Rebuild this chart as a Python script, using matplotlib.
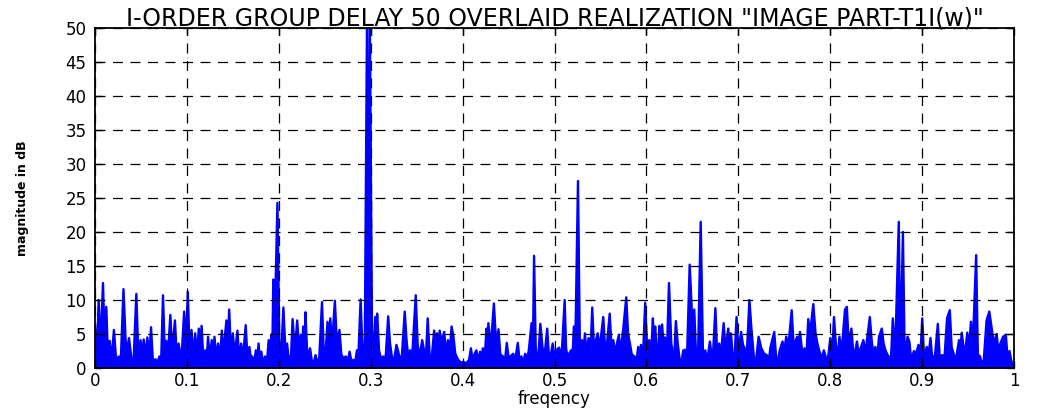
import matplotlib
matplotlib.use("Agg")
import matplotlib.pyplot as plt
import numpy as np

# spectral envelope of the overlaid realizations, sampled at the tips and dips
freq = [
    0.000, 0.002, 0.004, 0.006, 0.0087, 0.0105, 0.0123, 0.014, 0.016, 0.018,
    0.0206, 0.023, 0.026, 0.028, 0.031, 0.034, 0.037, 0.040, 0.042, 0.045,
    0.047, 0.0496, 0.051, 0.053, 0.055, 0.057, 0.059, 0.061, 0.063, 0.066,
    0.068, 0.070, 0.072, 0.074, 0.076, 0.0775, 0.079, 0.082, 0.084, 0.087,
    0.089, 0.091, 0.094, 0.097, 0.099, 0.101, 0.103, 0.105, 0.107, 0.109,
    0.111, 0.113, 0.1145, 0.116, 0.118, 0.120, 0.1215, 0.123, 0.125, 0.127,
    0.1285, 0.130, 0.132, 0.134, 0.136, 0.138, 0.1395, 0.143, 0.1445, 0.146,
    0.148, 0.150, 0.152, 0.155, 0.157, 0.159, 0.161, 0.164, 0.166, 0.168,
    0.170, 0.171, 0.173, 0.175, 0.1765, 0.178, 0.1795, 0.181, 0.183, 0.185,
    0.187, 0.189, 0.1905, 0.192, 0.193, 0.194, 0.1955, 0.1985, 0.2005, 0.202,
    0.205, 0.207, 0.209, 0.211, 0.212, 0.213, 0.215, 0.2175, 0.220, 0.222,
    0.224, 0.2255, 0.2265, 0.228, 0.229, 0.231, 0.232, 0.234, 0.236, 0.238,
    0.240, 0.242, 0.244, 0.247, 0.249, 0.251, 0.253, 0.2545, 0.256, 0.258,
    0.261, 0.263, 0.266, 0.268, 0.270, 0.273, 0.275, 0.277, 0.279, 0.281,
    0.283, 0.285, 0.2865, 0.289, 0.2905, 0.292, 0.2935, 0.296, 0.2975, 0.299,
    0.3015, 0.303, 0.305, 0.306, 0.307, 0.309, 0.311, 0.314, 0.316, 0.319,
    0.321, 0.323, 0.325, 0.328, 0.330, 0.332, 0.334, 0.337, 0.339, 0.341,
    0.343, 0.345, 0.346, 0.349, 0.351, 0.353, 0.356, 0.358, 0.360, 0.362,
    0.364, 0.366, 0.369, 0.3705, 0.372, 0.3735, 0.375, 0.377, 0.380, 0.382,
    0.384, 0.386, 0.388, 0.390, 0.392, 0.3952, 0.398, 0.401, 0.404, 0.407,
    0.409, 0.411, 0.413, 0.415, 0.417, 0.419, 0.4205, 0.422, 0.424, 0.426,
    0.427, 0.428, 0.4305, 0.434, 0.4365, 0.439, 0.441, 0.444, 0.446, 0.448,
    0.450, 0.452, 0.455, 0.457, 0.460, 0.462, 0.464, 0.466, 0.468, 0.4705,
    0.472, 0.475, 0.4765, 0.4777, 0.4795, 0.4818, 0.4845, 0.4875, 0.490, 0.492,
    0.494, 0.495, 0.498, 0.500, 0.502, 0.505, 0.507, 0.508, 0.511, 0.5125,
    0.514, 0.518, 0.5195, 0.521, 0.5225, 0.5255, 0.5275, 0.530, 0.5315, 0.533,
    0.535, 0.537, 0.539, 0.541, 0.543, 0.545, 0.547, 0.549, 0.550, 0.553,
    0.555, 0.557, 0.560, 0.562, 0.564, 0.566, 0.567, 0.570, 0.572, 0.573,
    0.575, 0.578, 0.580, 0.582, 0.584, 0.587, 0.589, 0.591, 0.593, 0.594,
    0.596, 0.5986, 0.601, 0.603, 0.605, 0.607, 0.608, 0.6095, 0.611, 0.612,
    0.613, 0.614, 0.6155, 0.617, 0.619, 0.620, 0.622, 0.6245, 0.627, 0.629,
    0.630, 0.632, 0.634, 0.636, 0.638, 0.640, 0.641, 0.642, 0.644, 0.647,
    0.649, 0.650, 0.652, 0.654, 0.656, 0.659, 0.6615, 0.664, 0.666, 0.669,
    0.671, 0.672, 0.675, 0.677, 0.679, 0.681, 0.684, 0.686, 0.689, 0.6905,
    0.692, 0.694, 0.696, 0.698, 0.700, 0.703, 0.705, 0.707, 0.709, 0.712,
    0.714, 0.717, 0.719, 0.722, 0.725, 0.728, 0.731, 0.733, 0.735, 0.739,
    0.741, 0.743, 0.745, 0.748, 0.750, 0.752, 0.7545, 0.758, 0.760, 0.761,
    0.764, 0.7655, 0.767, 0.770, 0.772, 0.774, 0.776, 0.778, 0.7815, 0.784,
    0.786, 0.788, 0.791, 0.793, 0.796, 0.797, 0.800, 0.802, 0.804, 0.806,
    0.808, 0.810, 0.812, 0.813, 0.816, 0.818, 0.820, 0.823, 0.825, 0.826,
    0.829, 0.831, 0.833, 0.836, 0.838, 0.839, 0.843, 0.845, 0.847, 0.849,
    0.851, 0.853, 0.856, 0.858, 0.860, 0.862, 0.866, 0.868, 0.8705, 0.8745,
    0.876, 0.877, 0.879, 0.881, 0.884, 0.886, 0.888, 0.891, 0.893, 0.896,
    0.898, 0.900, 0.902, 0.905, 0.907, 0.909, 0.911, 0.914, 0.917, 0.919,
    0.922, 0.924, 0.927, 0.930, 0.932, 0.935, 0.937, 0.940, 0.9415, 0.943,
    0.945, 0.947, 0.949, 0.951, 0.953, 0.955, 0.9587, 0.9605, 0.963, 0.965,
    0.967, 0.970, 0.973, 0.976, 0.978, 0.981, 0.983, 0.985, 0.988, 0.991,
    0.993, 0.995, 0.997, 1.000,
]

mag_db = [
    6.3, 1.5, 10.0, 3.0, 12.5, 4.0, 9.0, 2.0, 4.0, 1.0,
    5.6, 1.2, 1.7, 0.8, 11.6, 2.0, 4.4, 1.0, 1.0, 10.9,
    2.5, 4.1, 1.5, 4.2, 1.8, 4.5, 1.5, 6.0, 1.0, 1.3,
    0.6, 1.7, 1.0, 10.7, 2.0, 4.0, 1.2, 7.8, 2.5, 7.0,
    1.5, 3.6, 1.0, 8.3, 3.0, 11.2, 2.0, 5.6, 1.5, 5.1,
    2.0, 5.8, 2.5, 6.2, 1.0, 2.6, 1.0, 4.6, 1.2, 4.1,
    1.0, 4.6, 1.5, 3.6, 1.0, 5.5, 2.0, 7.0, 3.0, 8.6,
    2.0, 5.1, 1.9, 5.5, 1.0, 3.6, 1.5, 6.3, 1.2, 3.1,
    1.0, 1.7, 0.6, 2.6, 1.0, 3.6, 1.0, 2.4, 0.5, 1.7,
    0.8, 4.1, 2.0, 4.9, 2.5, 13.0, 6.0, 24.3, 4.0, 0.3,
    8.9, 3.0, 3.6, 1.0, 1.7, 0.8, 7.2, 2.5, 7.0, 3.0,
    4.9, 2.5, 6.1, 3.0, 8.2, 1.5, 2.0, 2.9, 1.0, 0.8,
    1.9, 0.7, 1.5, 9.7, 1.7, 2.5, 6.8, 3.0, 7.3, 3.5,
    9.9, 4.0, 5.6, 2.0, 1.5, 1.7, 0.9, 2.4, 1.0, 1.2,
    0.8, 2.6, 1.5, 10.1, 4.5, 1.2, 2.0, 52.0, 1.2, 52.0,
    3.0, 2.5, 7.5, 5.0, 8.0, 2.6, 1.5, 1.7, 1.0, 7.6,
    3.6, 1.7, 0.9, 3.4, 2.4, 1.0, 2.0, 8.3, 4.0, 1.5,
    2.6, 1.5, 3.8, 10.7, 3.6, 1.5, 4.1, 2.6, 1.5, 7.3,
    2.1, 1.0, 5.5, 3.0, 5.1, 3.0, 5.5, 4.0, 5.3, 2.0,
    4.1, 2.5, 6.1, 4.6, 2.1, 1.2, 0.8, 0.9, 0.7, 1.2,
    2.9, 1.0, 2.1, 2.6, 1.0, 2.4, 1.0, 2.9, 1.5, 5.8,
    3.5, 6.6, 3.0, 9.5, 3.5, 5.7, 2.0, 1.7, 1.0, 3.7,
    1.5, 1.7, 2.1, 1.0, 3.7, 1.0, 1.7, 0.8, 2.1, 1.5,
    2.6, 6.6, 3.0, 16.5, 3.0, 0.2, 6.5, 2.1, 3.0, 5.8,
    1.5, 1.2, 3.6, 1.5, 2.6, 3.0, 1.5, 2.6, 10.0, 3.0,
    1.7, 2.6, 1.5, 6.1, 2.6, 27.5, 3.5, 4.1, 2.0, 5.1,
    2.0, 4.4, 2.0, 8.9, 2.5, 4.1, 5.1, 2.0, 4.1, 7.5,
    3.0, 3.4, 8.0, 3.0, 4.1, 1.5, 3.1, 4.9, 2.0, 3.6,
    6.1, 10.4, 5.0, 3.6, 2.0, 1.7, 0.9, 3.1, 1.5, 3.4,
    1.0, 9.6, 2.0, 4.1, 2.0, 7.3, 4.0, 6.1, 3.0, 3.4,
    2.0, 6.2, 3.0, 6.4, 2.5, 4.5, 1.2, 12.5, 3.6, 1.7,
    1.0, 6.9, 3.6, 1.4, 0.7, 2.6, 1.0, 2.7, 1.0, 15.2,
    9.5, 4.5, 8.6, 1.7, 1.0, 21.5, 1.7, 2.6, 1.0, 3.9,
    1.7, 1.0, 8.8, 1.7, 3.6, 2.0, 6.6, 2.6, 5.8, 3.0,
    5.1, 1.2, 2.0, 7.5, 2.6, 5.3, 3.4, 2.9, 1.5, 10.0,
    6.1, 1.4, 0.8, 4.6, 2.9, 2.1, 1.9, 1.0, 3.1, 5.3,
    1.7, 1.0, 2.6, 3.9, 2.5, 4.6, 3.4, 8.5, 3.6, 3.5,
    4.6, 2.5, 5.3, 1.7, 2.9, 1.5, 7.2, 5.1, 9.4, 5.0,
    3.6, 2.5, 1.5, 2.6, 1.2, 0.8, 4.4, 1.7, 7.5, 3.6,
    1.5, 4.6, 2.0, 3.6, 8.6, 9.0, 3.6, 5.8, 2.2, 1.5,
    3.9, 2.0, 2.9, 4.1, 2.5, 3.1, 7.5, 4.1, 2.0, 3.1,
    1.5, 4.6, 5.8, 3.6, 2.6, 2.0, 1.2, 7.3, 1.7, 21.5,
    4.0, 6.0, 20.0, 1.0, 4.6, 3.9, 1.2, 2.5, 2.0, 3.4,
    1.5, 7.3, 1.7, 3.1, 2.0, 4.4, 1.2, 2.0, 6.5, 1.7,
    1.9, 1.0, 7.3, 8.5, 3.1, 1.7, 1.5, 4.1, 2.5, 5.2,
    3.1, 2.5, 5.2, 3.1, 6.8, 3.1, 16.6, 2.0, 1.7, 0.5,
    1.2, 7.0, 8.3, 5.5, 3.6, 5.0, 2.2, 3.6, 4.6, 4.9,
    1.2, 2.5, 1.0, 0.5,
]

x_ticks = [0, 0.1, 0.2, 0.3, 0.4, 0.5, 0.6, 0.7, 0.8, 0.9, 1]
x_ticklabels = ["0", "0.1", "0.2", "0.3", "0.4", "0.5", "0.6", "0.7", "0.8", "0.9", "1"]
y_ticks = [0, 5, 10, 15, 20, 25, 30, 35, 40, 45, 50]

f = np.array(freq)
m = np.array(mag_db)

fig = plt.figure(figsize=(10.38, 4.09), dpi=100)
ax = fig.add_axes([0.0915, 0.1002, 0.8855, 0.8313])

ax.fill_between(f, 0, m, color="#0000ff", linewidth=0)
ax.plot(f, m, color="#0000ff", linewidth=1.7)

ax.set_xlim(0, 1)
ax.set_ylim(0, 50)
ax.set_xticks(x_ticks)
ax.set_xticklabels(x_ticklabels)
ax.set_yticks(y_ticks)

ax.grid(True, color="black", linestyle=(0, (8, 6)), linewidth=0.9)
ax.set_axisbelow(False)
ax.tick_params(direction="in", top=True, right=True, length=5, width=1,
               labelsize=12)
ax.tick_params(axis="x", pad=3)
ax.tick_params(axis="y", pad=6)
for lab in ax.get_xticklabels() + ax.get_yticklabels():
    lab.set_family("DejaVu Sans")
for s in ax.spines.values():
    s.set_linewidth(1.3)

ax.set_title('I-ORDER GROUP DELAY 50 OVERLAID REALIZATION "IMAGE PART-T1I(w)"',
             fontsize=17, family="DejaVu Sans", pad=2)
ax.set_xlabel("freqency", fontsize=12, family="DejaVu Sans", va="center")
ax.xaxis.set_label_coords(0.5, -0.092)
ax.set_ylabel("magnitude in dB", fontsize=9, family="DejaVu Sans",
              fontweight="bold", labelpad=26)

fig.savefig("out.png", dpi=100)
